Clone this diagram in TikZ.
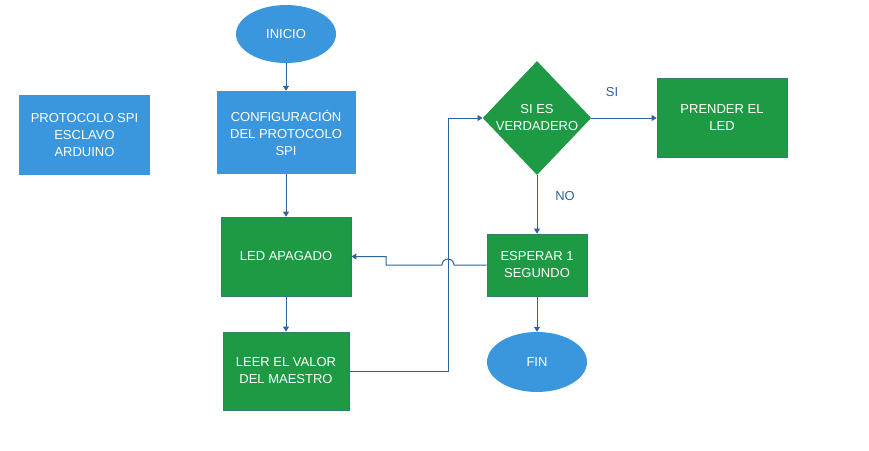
\documentclass[tikz,border=0pt]{standalone}
\usepackage{fontspec}
\setmainfont{Liberation Sans}
\usetikzlibrary{shapes.geometric,arrows.meta}
\definecolor{bluefill}{HTML}{3A96DD}
\definecolor{greenfill}{HTML}{1E9A45}
\definecolor{greenedge}{HTML}{2E8070}
\definecolor{linecol}{HTML}{2E6496}
\tikzset{
  every node/.style={font=\fontsize{13}{17}\selectfont, text=white, align=center, inner sep=0pt},
  bluebox/.style={rectangle, fill=bluefill},
  greenbox/.style={rectangle, fill=greenfill, draw=greenedge, line width=0.8pt},
  oval/.style={ellipse, fill=bluefill},
  decision/.style={diamond, fill=greenfill, inner sep=0pt},
  conn/.style={draw=linecol, line width=1pt, -{Triangle[length=5pt,width=6pt]}},
  lbl/.style={text=linecol}
}
\begin{document}
\begin{tikzpicture}[x=1pt,y=-1pt]
\useasboundingbox (0,0) rectangle (869,450);
\node[oval, minimum width=100pt, minimum height=58pt] (inicio) at (286,34) {INICIO};
\node[bluebox, minimum width=139pt, minimum height=83pt] (config) at (286,132.5) {CONFIGURACIÓN\\DEL PROTOCOLO\\SPI};
\node[bluebox, minimum width=131pt, minimum height=80pt] (titulo) at (84.5,135) {PROTOCOLO SPI\\ESCLAVO\\ARDUINO};
\node[greenbox, minimum width=130pt, minimum height=79pt] (apagado) at (286,256.5) {LED APAGADO};
\node[greenbox, minimum width=126pt, minimum height=78pt] (leer) at (286,371) {LEER EL VALOR\\DEL MAESTRO};
\node[decision, minimum width=108pt, minimum height=114pt] (cond) at (537,118) {SI ES\\VERDADERO};
\node[greenbox, minimum width=130pt, minimum height=79pt] (prender) at (722,118) {PRENDER EL\\LED};
\node[greenbox, minimum width=100pt, minimum height=62pt] (esperar) at (537,265) {ESPERAR 1\\SEGUNDO};
\node[oval, minimum width=100pt, minimum height=60pt] (fin) at (537,362) {FIN};
\node[lbl] (si) at (612,92) {SI};
\node[lbl] (no) at (565,196) {NO};
\coordinate (lr) at (448,371);
\coordinate (ur) at (448,118);
\coordinate (jr) at (454,265);
\coordinate (jl) at (442,265);
\coordinate (s1) at (386,265);
\coordinate (s2) at (386,256.5);
\draw[conn] (inicio) -- (config);
\draw[conn] (config) -- (apagado);
\draw[conn] (apagado) -- (leer);
\draw[conn] (leer.east) -- (lr) -- (ur) -- (cond.west);
\draw[conn] (cond.east) -- (prender.west);
\draw[conn] (cond.south) -- (esperar.north);
\draw[conn] (esperar.west) -- (jr) arc (0:180:6pt) -- (s1) -- (s2) -- (apagado.east);
\draw[conn] (esperar.south) -- (fin.north);
\end{tikzpicture}
\end{document}
